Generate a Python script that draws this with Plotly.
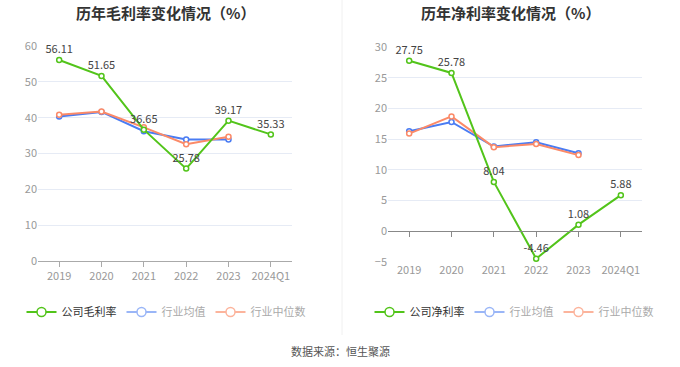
import plotly.graph_objects as go

categories = ["2019", "2020", "2021", "2022", "2023", "2024Q1"]
gross_company = [56.11, 51.65, 36.65, 25.78, 39.17, 35.33]
gross_avg = [40.3, 41.6, 36.2, 33.9, 33.9]
gross_median = [40.8, 41.7, 37.3, 32.6, 34.7]
net_company = [27.75, 25.78, 8.04, -4.46, 1.08, 5.88]
net_avg = [16.3, 17.8, 13.8, 14.5, 12.7]
net_median = [15.9, 18.7, 13.7, 14.2, 12.4]

GREEN = "#52c41a"
BLUE = "#4a7cf3"
ORANGE = "#fb8a68"
BLUE_L = "#9ab6f7"
ORANGE_L = "#fcb49c"
FONT = "Noto Sans CJK SC"

fig = go.Figure()


def line_trace(xs, ys, color, x_ax, y_ax, text=None):
    return go.Scatter(
        x=xs, y=ys, mode="lines+markers+text" if text else "lines+markers",
        text=text, textposition="top center",
        textfont=dict(size=11, color="#444", family=FONT),
        line=dict(color=color, width=2),
        marker=dict(symbol="circle", size=5, color="white", line=dict(width=1.5, color=color)),
        xaxis=x_ax, yaxis=y_ax, showlegend=False, cliponaxis=False)


def legend_trace(name, color, legend):
    return go.Scatter(
        x=[None], y=[None], mode="lines+markers", name=name,
        line=dict(color=color, width=2),
        marker=dict(symbol="circle", size=9, color="white", line=dict(width=1.5, color=color)),
        legend=legend, showlegend=True)


def add_chart(x_ax, y_ax, legend, cname, comp, avg, med):
    xs = list(range(len(categories)))
    fig.add_trace(line_trace(xs[:len(avg)], avg, BLUE, x_ax, y_ax))
    fig.add_trace(line_trace(xs[:len(med)], med, ORANGE, x_ax, y_ax))
    fig.add_trace(line_trace(xs, comp, GREEN, x_ax, y_ax, text=[f"{v:.2f}" for v in comp]))
    fig.add_trace(legend_trace(cname, GREEN, legend))
    fig.add_trace(legend_trace("<span style='color:#aaa'>行业均值</span>", BLUE_L, legend))
    fig.add_trace(legend_trace("<span style='color:#aaa'>行业中位数</span>", ORANGE_L, legend))


add_chart("x", "y", "legend", "公司毛利率", gross_company, gross_avg, gross_median)
add_chart("x2", "y2", "legend2", "公司净利率", net_company, net_avg, net_median)

xcommon = dict(tickmode="array", tickvals=list(range(len(categories))), ticktext=categories,
               range=[-0.5, 5.5], showgrid=False, zeroline=False, automargin=False,
               tickfont=dict(size=11, color="#999", family=FONT))
ycommon = dict(showgrid=True, gridcolor="#e6ebf5", gridwidth=1, showline=False, ticks="",
               tickfont=dict(size=11, color="#999", family=FONT), zeroline=False, automargin=False)

H = 367.0
W = 680.0
y1dom = [(H - 261) / H, (H - 46) / H]
y2dom = [(H - 262) / H, (H - 47) / H]
y2range = [-5, 30]
zero_pos = y2dom[0] + (0 - y2range[0]) / (y2range[1] - y2range[0]) * (y2dom[1] - y2dom[0])

fig.update_layout(
    width=680, height=367, margin=dict(l=0, r=0, t=0, b=0, autoexpand=False),
    template="plotly_white",
    paper_bgcolor="white", plot_bgcolor="white",
    font=dict(family=FONT, color="#333"),
    xaxis=dict(domain=[38 / W, 292 / W], anchor="y", showline=True, linecolor="#aaa", linewidth=1,
               ticks="outside", ticklen=5, tickcolor="#aaa", **xcommon),
    yaxis=dict(domain=y1dom, range=[0, 60], dtick=10, anchor="x", **ycommon),
    xaxis2=dict(domain=[388 / W, 642 / W], anchor="y2", showline=False, ticks="", **xcommon),
    yaxis2=dict(domain=y2dom, range=y2range, dtick=5, anchor="x2", **ycommon),
    xaxis3=dict(domain=[388 / W, 642 / W], anchor="free", overlaying="x2", position=zero_pos,
                showline=True, linecolor="#888", linewidth=1, ticks="outside", ticklen=5,
                tickcolor="#888", showticklabels=False,
                **{k: v for k, v in xcommon.items() if k != "tickfont"}),
    legend=dict(orientation="h", x=166 / W, xanchor="center", y=(H - 312) / H, yanchor="middle",
                font=dict(size=11, color="#333", family=FONT), bgcolor="rgba(0,0,0,0)",
                itemwidth=30, tracegroupgap=0),
    legend2=dict(orientation="h", x=514 / W, xanchor="center", y=(H - 312) / H, yanchor="middle",
                 font=dict(size=11, color="#333", family=FONT), bgcolor="rgba(0,0,0,0)",
                 itemwidth=30, tracegroupgap=0),
    showlegend=True,
)
# dummy trace so xaxis3 is drawn
fig.add_trace(go.Scatter(x=[None], y=[None], xaxis="x3", yaxis="y2", showlegend=False))

fig.add_annotation(text="<b>历年毛利率变化情况（%）</b>", x=165 / W, y=(H - 12) / H, xref="paper", yref="paper",
                   showarrow=False, font=dict(size=15, color="#333", family=FONT), xanchor="center", yanchor="middle")
fig.add_annotation(text="<b>历年净利率变化情况（%）</b>", x=510 / W, y=(H - 12) / H, xref="paper", yref="paper",
                   showarrow=False, font=dict(size=15, color="#333", family=FONT), xanchor="center", yanchor="middle")
fig.add_annotation(text="数据来源：恒生聚源", x=0.5, y=(H - 351) / H, xref="paper", yref="paper",
                   showarrow=False, font=dict(size=11, color="#555", family=FONT), xanchor="center", yanchor="middle")
fig.add_shape(type="line", xref="paper", yref="paper", x0=342 / W, x1=342 / W, y0=(H - 335) / H, y1=1,
              line=dict(color="#f0f0f0", width=1))

fig.write_html("out.html", config={"displayModeBar": False},
               post_script="document.body.style.margin='0';document.body.style.overflow='hidden';")
